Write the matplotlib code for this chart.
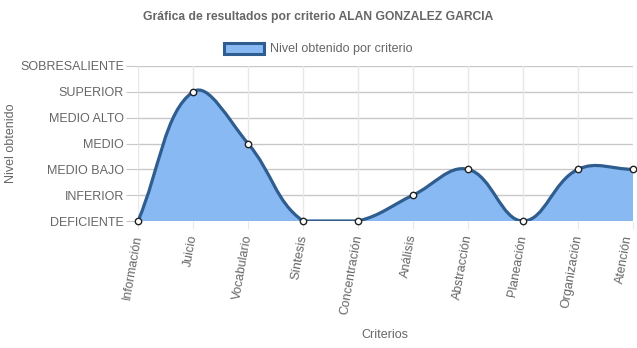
import numpy as np
import matplotlib
matplotlib.use("Agg")
import matplotlib.pyplot as plt
import matplotlib.transforms as mtransforms
from matplotlib.path import Path
from matplotlib.patches import PathPatch, Patch

# ============================
#       DATA
# ============================

criterios = ['Información', 'Juicio', 'Vocabulario', 'Síntesis', 'Concentración',
             'Análisis', 'Abstracción', 'Planeación', 'Organización', 'Atención']
niveles = [0, 5, 3, 0, 0, 1, 2, 0, 2, 2]
escala = ['DEFICIENTE', 'INFERIOR', 'MEDIO BAJO', 'MEDIO', 'MEDIO ALTO',
          'SUPERIOR', 'SOBRESALIENTE']

LINE = '#2f5d8f'
FILL = '#88b9f2'
TXT = '#666666'

plt.rcParams['font.family'] = ['Liberation Sans', 'DejaVu Sans']

fig = plt.figure(figsize=(6.37, 3.48), dpi=100)
ax = fig.add_axes([138 / 637, 1 - 221 / 348, (633 - 138) / 637, (221 - 66) / 348])
ax.set_xlim(0, len(criterios) - 1)
ax.set_ylim(0, len(escala) - 1)


# chart.js style spline (tension 0.4), computed in pixel space
def spline_path(xs, ys, t=0.4):
    pts = ax.transData.transform(np.column_stack([xs, ys]))
    x0, y0 = ax.transData.transform((0, 0))
    x1, y1 = ax.transData.transform((len(xs) - 1, len(escala) - 1))
    n = len(pts)
    cp_prev, cp_next = [], []
    for i in range(n):
        prev = pts[max(i - 1, 0)]
        cur = pts[i]
        nxt = pts[min(i + 1, n - 1)]
        d01 = np.hypot(*(cur - prev))
        d12 = np.hypot(*(nxt - cur))
        tot = d01 + d12
        s01 = d01 / tot if tot else 0
        s12 = d12 / tot if tot else 0
        a = cur - t * s01 * (nxt - prev)
        b = cur + t * s12 * (nxt - prev)
        a = np.array([np.clip(a[0], x0, x1), np.clip(a[1], y0, y1)])
        b = np.array([np.clip(b[0], x0, x1), np.clip(b[1], y0, y1)])
        cp_prev.append(a)
        cp_next.append(b)
    verts = [pts[0]]
    codes = [Path.MOVETO]
    for i in range(n - 1):
        verts += [cp_next[i], cp_prev[i + 1], pts[i + 1]]
        codes += [Path.CURVE4] * 3
    inv = ax.transData.inverted()
    return inv.transform(np.array(verts)), codes


verts, codes = spline_path(np.arange(len(criterios)), niveles)

# filled area down to baseline
fill_verts = list(verts) + [(len(criterios) - 1, 0), (0, 0), (0, 0)]
fill_codes = list(codes) + [Path.LINETO, Path.LINETO, Path.CLOSEPOLY]
ax.add_patch(PathPatch(Path(fill_verts, fill_codes), facecolor=FILL, edgecolor='none', zorder=2))
ax.add_patch(PathPatch(Path(verts, codes), facecolor='none', edgecolor=LINE, lw=2.3,
                       capstyle='round', joinstyle='round', zorder=3))
ax.plot(np.arange(len(criterios)), niveles, 'o', ms=4.6, mfc='white', mec='#222222',
        mew=1.0, zorder=4, clip_on=False)

# grid
for y in range(len(escala)):
    ax.axhline(y, color='#c8c8c8', lw=1, zorder=1)
for x in range(len(criterios)):
    ax.axvline(x, color='#e8e8e8', lw=1, zorder=1)
for s in ax.spines.values():
    s.set_visible(False)

ax.set_yticks(range(len(escala)))
ax.set_yticklabels(escala, fontsize=9, color=TXT)
ax.set_xticks(range(len(criterios)))
ax.set_xticklabels(criterios, fontsize=9, color=TXT, rotation=80,
                   ha='right', va='center', rotation_mode='anchor')
ax.tick_params(axis='y', length=9, color='#c8c8c8', pad=1)
ax.tick_params(axis='x', length=6, color='#e8e8e8', pad=4)

# keep the last label inside the canvas
last = ax.get_xticklabels()[-1]
last.set_transform(last.get_transform() +
                   mtransforms.ScaledTranslation(-4 / 100, 0, fig.dpi_scale_trans))

fig.text(11 / 637, 1 - 143 / 348, 'Nivel obtenido', fontsize=9, color=TXT,
         rotation=90, ha='center', va='center')
fig.text(385 / 637, 1 - 335 / 348, 'Criterios', fontsize=9, color=TXT, ha='center', va='center')

fig.text(318 / 637, 1 - 17 / 348, 'Gráfica de resultados por criterio ALAN GONZALEZ GARCIA',
         fontsize=8.7, color=TXT, fontweight='bold', ha='center', va='center')

handle = Patch(facecolor=FILL, edgecolor=LINE, lw=2.2)
fig.legend([handle], ['Nivel obtenido por criterio'], loc='center',
           bbox_to_anchor=(318 / 637, 1 - 49 / 348), frameon=False, fontsize=9,
           labelcolor=TXT, handlelength=3.2, handleheight=1.0, handletextpad=0.5)

fig.savefig('out.png', dpi=100)
